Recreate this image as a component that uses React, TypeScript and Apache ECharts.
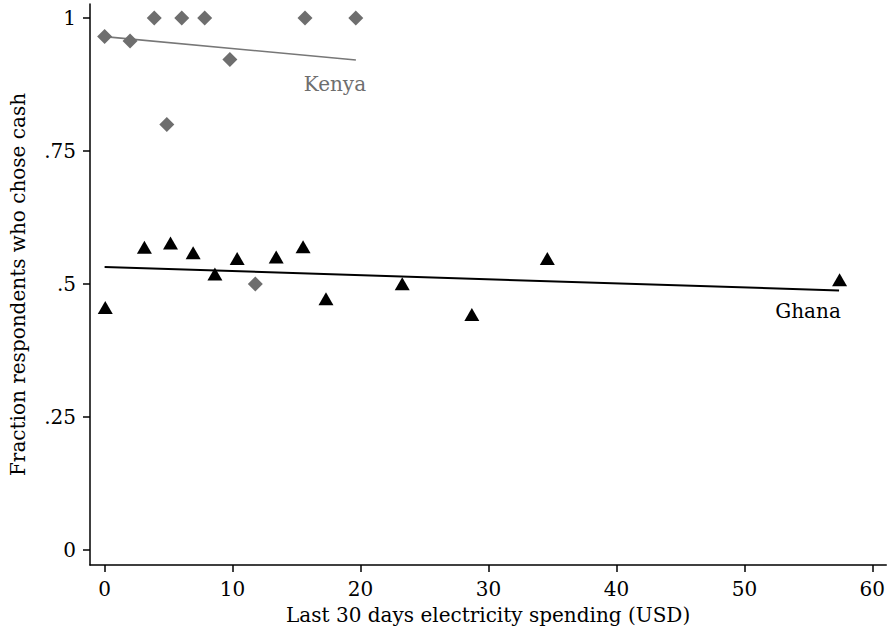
import React, { useEffect, useRef } from "react";
import * as echarts from "echarts";

const kenyaX = [0, 1.99, 3.88, 6.03, 7.82, 9.79, 4.86, 15.66, 19.63, 11.78];
const kenyaY = [0.965, 0.957, 1, 1, 1, 0.922, 0.8, 1, 1, 0.5];
const ghanaX = [0.05, 3.11, 5.15, 6.92, 8.62, 10.36, 13.41, 15.51, 17.3, 23.26, 28.7, 34.6, 57.44];
const ghanaY = [0.456, 0.569, 0.577, 0.559, 0.519, 0.548, 0.551, 0.57, 0.4725, 0.5006, 0.443, 0.548, 0.508];
const kenyaFitX = [0, 19.64];
const kenyaFitY = [0.965, 0.921];
const ghanaFitX = [0, 57.4];
const ghanaFitY = [0.532, 0.488];
const xTicks = [0, 10, 20, 30, 40, 50, 60];
const yTicks = [0, 0.25, 0.5, 0.75, 1];
const yTickLabels = ["0", ".25", ".5", ".75", "1"];

const FONT = "DejaVu Serif";
const KENYA_GREY = "#6e6e6e";

function pairs(xs: number[], ys: number[]) {
  return xs.map((x, i) => [x, ys[i]]);
}

export default function App() {
  const ref = useRef<HTMLDivElement>(null);
  useEffect(() => {
    if (!ref.current) return;
    const chart = echarts.init(ref.current, null, { renderer: "svg" });
    const kFit = pairs(kenyaFitX, kenyaFitY);
    const gFit = pairs(ghanaFitX, ghanaFitY);
    chart.setOption({
      animation: false,
      backgroundColor: "#ffffff",
      textStyle: { fontFamily: FONT, color: "#000000" },
      grid: { left: 87, right: 0, top: 4, bottom: 64.3, containLabel: false },
      xAxis: {
        type: "value",
        min: -1.142,
        max: 61.09,
        name: "Last 30 days electricity spending (USD)",
        nameLocation: "middle",
        nameGap: 40,
        nameTextStyle: { fontFamily: FONT, fontSize: 20, color: "#000000" },
        axisLine: { show: true, onZero: false, lineStyle: { color: "#000000", width: 1.5 } },
        axisTick: { show: true, customValues: xTicks, length: 7, lineStyle: { color: "#000000", width: 1.5 } },
        axisLabel: { customValues: xTicks, margin: 14, fontFamily: FONT, fontSize: 20, color: "#000000" },
        splitLine: { show: false },
      },
      yAxis: {
        type: "value",
        min: -0.028,
        max: 1.0263,
        name: "Fraction respondents who chose cash",
        nameLocation: "middle",
        nameGap: 62,
        nameRotate: 90,
        nameTextStyle: { fontFamily: FONT, fontSize: 20, color: "#000000" },
        axisLine: { show: true, onZero: false, lineStyle: { color: "#000000", width: 1.5 } },
        axisTick: { show: true, customValues: yTicks, length: 7, lineStyle: { color: "#000000", width: 1.5 } },
        axisLabel: {
          customValues: yTicks,
          margin: 14,
          fontFamily: FONT,
          fontSize: 20,
          color: "#000000",
          formatter: (v: number) => {
            const i = yTicks.findIndex((t) => Math.abs(t - v) < 1e-9);
            return i >= 0 ? yTickLabels[i] : "";
          },
        },
        splitLine: { show: false },
      },
      series: [
        {
          type: "line",
          data: kFit.map((p, i) =>
            i === kFit.length - 1
              ? { value: p, label: { show: true, formatter: "Kenya", position: "inside", offset: [-21, 24], color: KENYA_GREY, fontFamily: FONT, fontSize: 20 } }
              : { value: p }
          ),
          symbol: "circle",
          symbolSize: 1,
          itemStyle: { color: "rgba(0,0,0,0)" },
          lineStyle: { color: "#777777", width: 1.6 },
          z: 1,
        },
        {
          type: "line",
          data: gFit.map((p, i) =>
            i === gFit.length - 1
              ? { value: p, label: { show: true, formatter: "Ghana", position: "inside", offset: [-31, 21], color: "#000000", fontFamily: FONT, fontSize: 20 } }
              : { value: p }
          ),
          symbol: "circle",
          symbolSize: 1,
          itemStyle: { color: "rgba(0,0,0,0)" },
          lineStyle: { color: "#000000", width: 2 },
          z: 1,
        },
        {
          type: "scatter",
          data: pairs(kenyaX, kenyaY),
          symbol: "diamond",
          symbolSize: [15, 15],
          itemStyle: { color: KENYA_GREY, opacity: 1 },
          z: 2,
        },
        {
          type: "scatter",
          data: pairs(ghanaX, ghanaY),
          symbol: "triangle",
          symbolSize: [15, 13],
          itemStyle: { color: "#000000", opacity: 1 },
          z: 3,
        },
      ],
    });
    return () => chart.dispose();
  }, []);
  return <div ref={ref} style={{ position: "fixed", left: 0, top: 0, width: 888, height: 630 }} />;
}
